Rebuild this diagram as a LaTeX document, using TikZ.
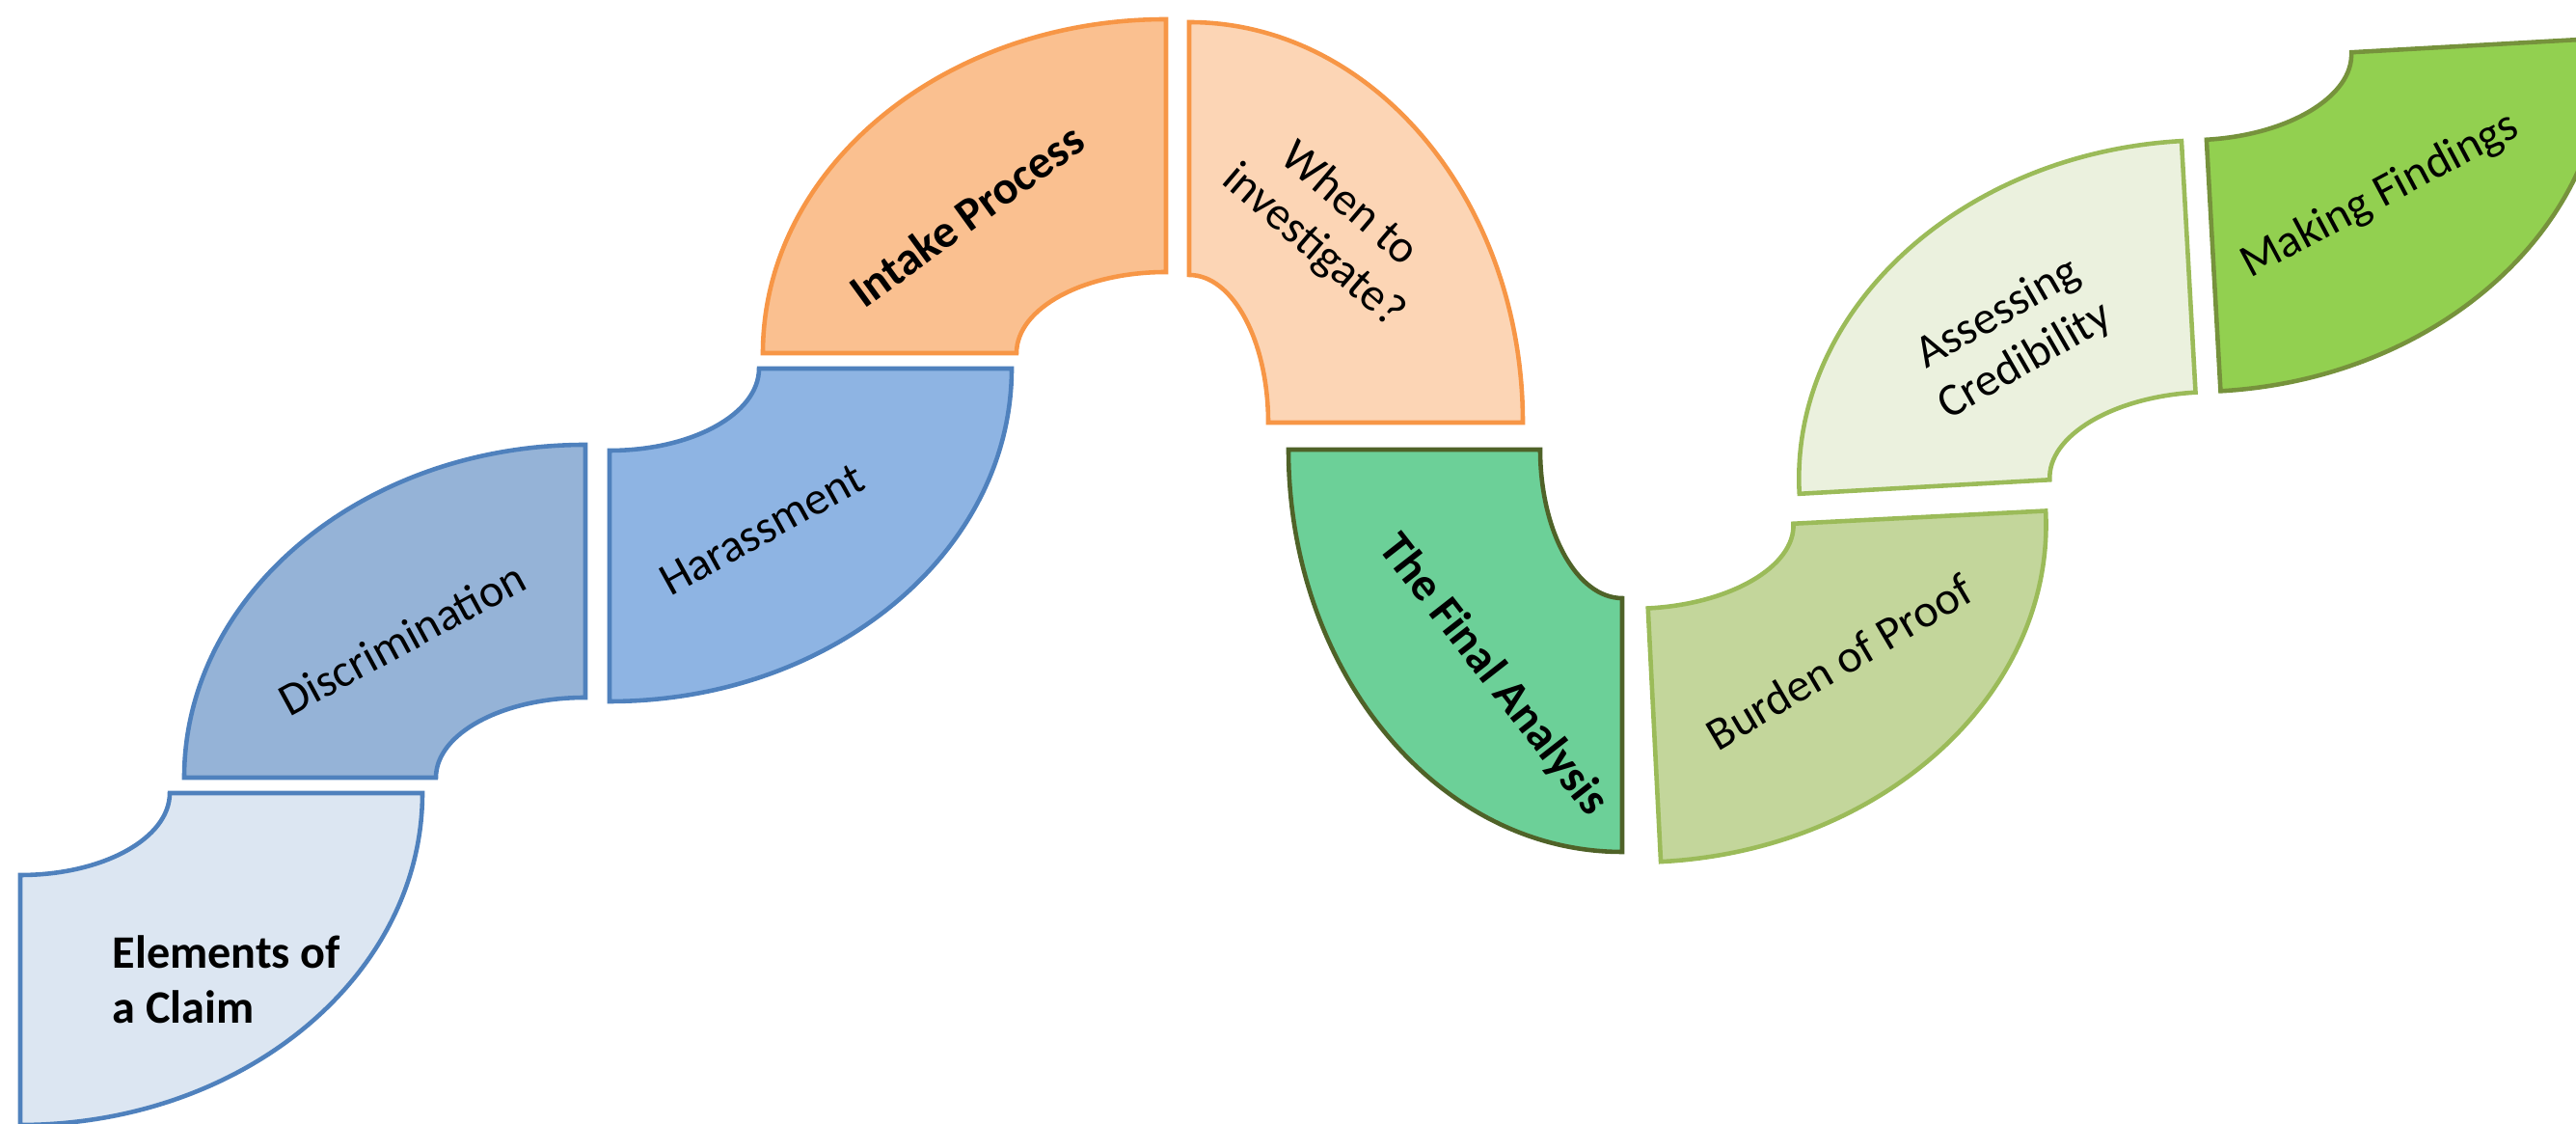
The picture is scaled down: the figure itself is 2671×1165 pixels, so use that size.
\documentclass[tikz,border=0pt]{standalone}
\usepackage{fontspec}
\setmainfont{Carlito}
\definecolor{blueline}{HTML}{4F81BD}
\definecolor{orangeline}{HTML}{F79646}
\definecolor{greenline}{HTML}{9BBB59}
\definecolor{darkgreenline}{HTML}{4F6228}
\definecolor{midgreenline}{HTML}{76923C}
\definecolor{fillA}{HTML}{DCE6F2}
\definecolor{fillB}{HTML}{95B3D7}
\definecolor{fillC}{HTML}{8EB4E3}
\definecolor{fillD}{HTML}{FAC090}
\definecolor{fillE}{HTML}{FCD5B5}
\definecolor{fillF}{HTML}{6CD098}
\definecolor{fillG}{HTML}{C3D69B}
\definecolor{fillH}{HTML}{EBF1DE}
\definecolor{fillI}{HTML}{92D050}
% quarter elliptical ring: sx, sy, inner a, inner b, outer A, outer B
\newcommand\ringpath[6]{({#1*#3},0) .. controls ({#1*#3},{#2*0.5523*#4}) and ({#1*0.5523*#3},{#2*#4}) .. (0,{#2*#4}) -- (0,{#2*#6}) .. controls ({#1*0.5523*#5},{#2*#6}) and ({#1*#5},{#2*0.5523*#6}) .. ({#1*#5},0) -- cycle}
\tikzset{
  ring/.style={line width=1.3pt, line join=miter},
  lbl/.style={inner sep=0pt, font=\fontsize{13.7}{16.2}\selectfont, text=black},
  lblb/.style={lbl, font=\fontsize{13.7}{16.2}\selectfont\bfseries}
}
\begin{document}
\begin{tikzpicture}[x=0.01cm, y=-0.01cm]
\useasboundingbox (0,0) rectangle (2671,1165);
\clip (0,0) rectangle (2671,1165);
\fill[white] (0,0) rectangle (2671,1165);
% shapes
\begin{scope}[shift={(21,822)}]
  \draw[ring, draw=blueline, fill=fillA] \ringpath{1}{1}{155}{85}{417}{344};
\end{scope}
\begin{scope}[shift={(607,806)}]
  \draw[ring, draw=blueline, fill=fillB] \ringpath{-1}{-1}{155}{83}{416}{345};
\end{scope}
\begin{scope}[shift={(632,382)}]
  \draw[ring, draw=blueline, fill=fillC] \ringpath{1}{1}{155}{85}{417}{345};
\end{scope}
\begin{scope}[shift={(1209,366)}]
  \draw[ring, draw=orangeline, fill=fillD] \ringpath{-1}{-1}{155}{84}{418}{346};
\end{scope}
\begin{scope}[shift={(1233,438)}]
  \draw[ring, draw=orangeline, fill=fillE] \ringpath{1}{-1}{82}{153}{346}{415};
\end{scope}
\begin{scope}[shift={(1682,466)}]
  \draw[ring, draw=darkgreenline, fill=fillF] \ringpath{-1}{1}{85}{154}{346}{417};
\end{scope}
\begin{scope}[shift={(1704.7,550.6)}, rotate=2.9]
  \draw[ring, draw=greenline, fill=fillG] \ringpath{1}{1}{155}{80}{417}{343};
\end{scope}
\begin{scope}[shift={(2281.1,488.6)}, rotate=3.2]
  \draw[ring, draw=greenline, fill=fillH] \ringpath{-1}{-1}{156}{82}{416}{343};
\end{scope}
\begin{scope}[shift={(2283.3,62.9)}, rotate=3.2]
  \draw[ring, draw=midgreenline, fill=fillI] \ringpath{1}{1}{155}{82}{417}{343};
\end{scope}
% labels
\node[lblb, anchor=west, align=left] (elements) at (116,1015) {Elements of\\a Claim};
\node[lbl, rotate=28.5] (discr) at (417,662) {Discrimination};
\node[lbl, rotate=29] (harass) at (790,549) {Harassment};
\node[lblb, rotate=36] (intake) at (1002,223) {Intake Process};
\node[lbl, rotate=-40.5, align=center] (when) at (1380,234) {When to\\investigate?};
\node[lblb, rotate=-52] (final) at (1548,700) {The Final Analysis};
\node[lbl, rotate=30.5] (burden) at (1907,686) {Burden of Proof};
\node[lbl, rotate=30, align=center] (assess) at (2086,350) {Assessing\\Credibility};
\node[lbl, rotate=28] (making) at (2468,203) {Making Findings};
\end{tikzpicture}
\end{document}
